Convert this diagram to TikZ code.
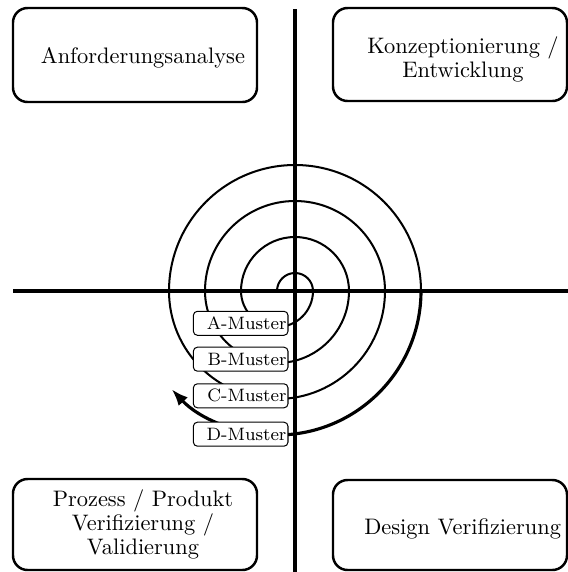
\documentclass[tikz,border=0pt]{standalone}
\usetikzlibrary{arrows.meta}
% one drawing unit
\def\pxu{0.446pt}
\begin{document}
\begin{tikzpicture}[x=0.446pt, y=-0.446pt,
  axisline/.style={line width=2.1pt},
  phasebox/.style={draw, line width=1.1pt, rounded corners=6.5pt, inner sep=0pt},
  phasetext/.style={align=center, font=\fontsize{10}{10.7}\selectfont, inner sep=0pt},
  spiralline/.style={line width=0.9pt},
  lastturn/.style={line width=1.4pt, -{Latex[length=7.5pt, width=5.6pt]}},
  muster/.style={draw, fill=white, line width=0.45pt, rounded corners=1.8pt,
    font=\footnotesize, text width=40.8pt, align=right, inner xsep=0.7pt,
    inner ysep=0pt, minimum height=24*\pxu, anchor=east}]
\useasboundingbox (0,0) rectangle (568,572);

% quadrant boxes
\node[phasebox, minimum width=244*\pxu, minimum height=94*\pxu] (anfbox) at (135,55) {};
\node[phasebox, minimum width=234*\pxu, minimum height=93*\pxu] (konbox) at (450,54.5) {};
\node[phasebox, minimum width=244*\pxu, minimum height=91*\pxu] (probox) at (135,524.5) {};
\node[phasebox, minimum width=234*\pxu, minimum height=90*\pxu] (desbox) at (450,525) {};

\node[phasetext] (anftext) at (143,57.7) {Anforderungsanalyse};
\node[phasetext] (kontext) at (463,59.7) {Konzeptionierung /\\Entwicklung};
\node[phasetext] (protext) at (143,524.7) {Prozess / Produkt\\Verifizierung /\\Validierung};
\node[phasetext] (destext) at (462.7,528.4) {Design Verifizierung};

% axes
\coordinate (ytop) at (295,9);
\coordinate (ybot) at (295,572);
\coordinate (xleft) at (13,291);
\coordinate (xright) at (568,291);
\draw[axisline] (ytop) -- (ybot);
\draw[axisline] (xleft) -- (xright);

% spiral of half circles
\coordinate (sstart) at (277,291);
\draw[spiralline] (sstart)
  arc[start angle=180, end angle=360, radius=18]
  arc[start angle=0, end angle=180, radius=36]
  arc[start angle=180, end angle=360, radius=54]
  arc[start angle=0, end angle=180, radius=72]
  arc[start angle=180, end angle=360, radius=90]
  arc[start angle=0, end angle=180, radius=108]
  arc[start angle=180, end angle=360, radius=126] coordinate (send);
\draw[lastturn] (send) arc[start angle=0, end angle=137, radius=144];

% prototype labels
\node[muster] (amuster) at (288.5,323.3) {A-Muster};
\node[muster] (bmuster) at (288.5,359.2) {B-Muster};
\node[muster] (cmuster) at (288.5,395.8) {C-Muster};
\node[muster] (dmuster) at (288.5,434.2) {D-Muster};
\end{tikzpicture}
\end{document}
